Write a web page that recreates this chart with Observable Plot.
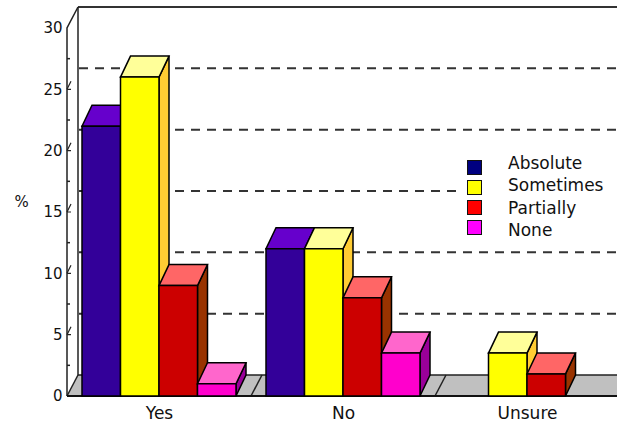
<!DOCTYPE html>
<html>
<head>
<meta charset="utf-8">
<script src="https://cdn.jsdelivr.net/npm/d3@7"></script>
<script src="https://cdn.jsdelivr.net/npm/@observablehq/plot@0.6"></script>
<style>
  html, body { margin: 0; padding: 0; background: #fff; }
  #wrap { position: relative; width: 617px; height: 426px; overflow: hidden; font-family: "DejaVu Sans", sans-serif; }
  #wrap svg { display: block; }
  .lg-bg { position: absolute; left: 458px; top: 150px; width: 159px; height: 92px; background: #fff; }
  .lg-sw { position: absolute; width: 13px; height: 13px; border: 1px solid #111; }
  .lg-tx { position: absolute; font-size: 17px; line-height: 20px; color: #111; white-space: nowrap; }
</style>
</head>
<body>
<div id="wrap"></div>
<script>
// ---- data ----
const groups = ["Yes", "No", "Unsure"];
const seriesNames = ["Absolute", "Sometimes", "Partially", "None"];
const absolute = [22, 12, 0];
const sometimes = [26, 12, 3.5];
const partially = [9, 8, 1.8];
const none = [1, 3.5, 0];
const yTicks = [0, 5, 10, 15, 20, 25, 30];
const gridValues = [5, 10, 15, 20, 25];
const minorTicks = [2.5, 7.5, 12.5, 17.5, 22.5, 27.5];
const yLabel = "%";

// ---- palette ----
const frontColors = ["#330099", "#ffff00", "#cc0000", "#ff00cc"];
const topColors = ["#6600cc", "#ffff99", "#ff6666", "#ff66cc"];
const sideColors = ["#220066", "#ffcc33", "#993300", "#990099"];
const legendColors = ["#000080", "#ffff00", "#ff0000", "#ff00ff"];

const seriesValues = [absolute, sometimes, partially, none];
const rows = groups.flatMap((g, gi) =>
  seriesNames.map((s, si) => ({group: g, series: s, value: seriesValues[si][gi]}))
);

// 3D depth offsets (pixels)
const WDX = 11, WDY = 21; // wall/floor
const BDX = 10, BDY = 21; // bars

function boxMark(index, scales, values, dims) {
  const {x, y} = scales;
  const L = dims.marginLeft, R = dims.width;
  const y0 = y(0), yTop = y(30);
  const g = d3.create("svg:g");
  // floor
  g.append("path")
    .attr("d", `M${L},${y0}L${L + WDX},${y0 - WDY}L${R},${y0 - WDY}L${R},${y0}Z`)
    .attr("fill", "#c0c0c0");
  // dashed grid on back wall
  for (const v of gridValues) {
    g.append("line")
      .attr("x1", L + WDX + 1).attr("x2", R)
      .attr("y1", y(v) - WDY).attr("y2", y(v) - WDY)
      .attr("stroke", "#333").attr("stroke-width", 2)
      .attr("stroke-dasharray", "9,7");
  }
  // top frame line
  g.append("line").attr("x1", L + WDX).attr("x2", R)
    .attr("y1", yTop - WDY).attr("y2", yTop - WDY)
    .attr("stroke", "#333").attr("stroke-width", 2);
  // back wall left line
  g.append("line").attr("x1", L + WDX).attr("x2", L + WDX)
    .attr("y1", yTop - WDY).attr("y2", y0 - WDY)
    .attr("stroke", "#222").attr("stroke-width", 1.5);
  // floor back edge
  g.append("line").attr("x1", L + WDX).attr("x2", R)
    .attr("y1", y0 - WDY).attr("y2", y0 - WDY)
    .attr("stroke", "#222").attr("stroke-width", 1.5);
  // floor category dividers
  const step = x.step(), bw = x.bandwidth();
  for (let i = 1; i < groups.length; i++) {
    const b = x(groups[i]) - (step - bw) / 2;
    g.append("line").attr("x1", b).attr("y1", y0).attr("x2", b + WDX).attr("y2", y0 - WDY)
      .attr("stroke", "#222").attr("stroke-width", 1.5);
  }
  // floor left diagonal
  g.append("line").attr("x1", L).attr("y1", y0).attr("x2", L + WDX).attr("y2", y0 - WDY)
    .attr("stroke", "#222").attr("stroke-width", 1.5);
  // front axis line and top diagonal
  g.append("path")
    .attr("d", `M${L},${y0}L${L},${yTop}L${L + WDX},${yTop - WDY}`)
    .attr("fill", "none").attr("stroke", "#222").attr("stroke-width", 1.5);
  // floor front edge
  g.append("line").attr("x1", L).attr("x2", R).attr("y1", y0).attr("y2", y0)
    .attr("stroke", "#111").attr("stroke-width", 2);
  // major ticks (small 3D marks)
  for (const v of gridValues) {
    g.append("path")
      .attr("d", `M${L},${y(v)}l4,-8M${L},${y(v)}h4`)
      .attr("fill", "none").attr("stroke", "#222").attr("stroke-width", 1.2);
  }
  // minor ticks
  for (const v of minorTicks) {
    g.append("line").attr("x1", L).attr("x2", L + 3).attr("y1", y(v)).attr("y2", y(v))
      .attr("stroke", "#222").attr("stroke-width", 1.5);
  }
  return g.node();
}

function renderBars(index, scales, values, dims) {
  const {x, y} = scales;
  const sub = x.bandwidth() / seriesNames.length;
  const g = d3.create("svg:g")
    .attr("stroke", "#000").attr("stroke-width", 1.5).attr("stroke-linejoin", "miter");
  for (const i of index) {
    const d = rows[i];
    if (!(d.value > 0)) continue;
    const si = seriesNames.indexOf(d.series);
    const x0 = x(d.group) + si * sub, x1 = x0 + sub;
    const yb = y(0), yt = y(d.value);
    g.append("path")
      .attr("d", `M${x1},${yb}L${x1 + BDX},${yb - BDY}L${x1 + BDX},${yt - BDY}L${x1},${yt}Z`)
      .attr("fill", sideColors[si]);
    g.append("path")
      .attr("d", `M${x0},${yt}L${x1},${yt}L${x1 + BDX},${yt - BDY}L${x0 + BDX},${yt - BDY}Z`)
      .attr("fill", topColors[si]);
    g.append("path")
      .attr("d", `M${x0},${yb}L${x0},${yt}L${x1},${yt}L${x1},${yb}Z`)
      .attr("fill", scales.color ? scales.color(d.series) : frontColors[si]);
  }
  return g.node();
}

const chart = Plot.plot({
  width: 617,
  height: 426,
  marginLeft: 67,
  marginRight: 0,
  marginTop: 28,
  marginBottom: 30,
  x: {type: "band", domain: groups, range: [67, 619], paddingInner: 0.163, paddingOuter: 0.0815, axis: null},
  y: {domain: [0, 30], axis: null},
  color: {domain: seriesNames, range: frontColors},
  style: {fontFamily: "DejaVu Sans, sans-serif", background: "white", overflow: "hidden", color: "#111"},
  marks: [
    boxMark,
    Plot.barY(rows, {x: "group", y1: 0, y2: "value", fill: "series", render: renderBars}),
    Plot.text(groups, {x: d => d, frameAnchor: "bottom", lineAnchor: "top", dy: 10, fontSize: 17, fill: "#111"}),
    Plot.text(yTicks, {y: d => d, frameAnchor: "left", textAnchor: "end", dx: -5, fontSize: 15, fill: "#111"}),
    Plot.text([yLabel], {frameAnchor: "left", textAnchor: "middle", dx: -46, dy: -10, fontSize: 15, fill: "#111"})
  ]
});

const wrap = document.getElementById("wrap");
wrap.appendChild(chart);

// legend (vertical swatches inside the plot area, on a white box)
const bg = document.createElement("div");
bg.className = "lg-bg";
wrap.appendChild(bg);
seriesNames.forEach((name, i) => {
  const sw = document.createElement("div");
  sw.className = "lg-sw";
  sw.style.left = "467px";
  sw.style.top = (160 + i * 20) + "px";
  sw.style.background = legendColors[i];
  wrap.appendChild(sw);
  const tx = document.createElement("div");
  tx.className = "lg-tx";
  tx.style.left = "508px";
  tx.style.top = (153 + i * 22.4) + "px";
  tx.textContent = name;
  wrap.appendChild(tx);
});
</script>
</body>
</html>
